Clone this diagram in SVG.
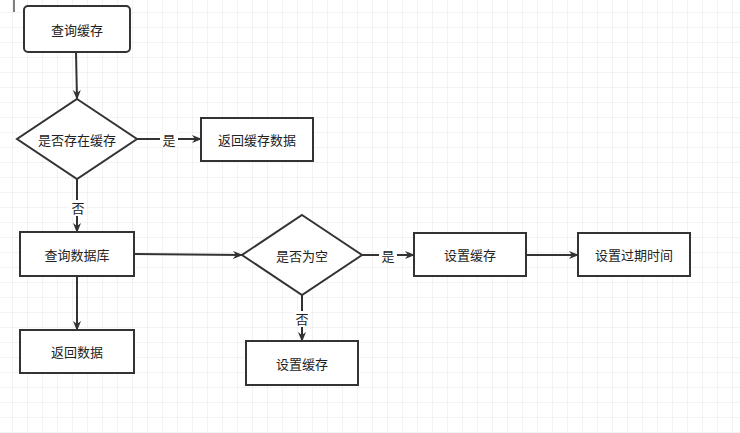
<svg xmlns="http://www.w3.org/2000/svg" width="740" height="433" viewBox="0 0 740 433">
<defs>
<pattern id="g" width="15" height="15" patternUnits="userSpaceOnUse" x="-2" y="-2"><path d="M15 0V15H0" fill="none" stroke="#e6e6e6" stroke-width="1"/></pattern>
<marker id="a" markerWidth="10" markerHeight="10" refX="9" refY="5" orient="auto" markerUnits="userSpaceOnUse"><path d="M0 1L10 5L0 9L3 5Z" fill="#333"/></marker>
</defs>
<style>
.n{fill:#fff;stroke:#333;stroke-width:2}
.t{font-family:"Liberation Sans","Noto Sans CJK SC",sans-serif;font-size:13px;fill:#222;text-anchor:middle;dominant-baseline:central}
.e{stroke:#333;stroke-width:2;fill:none;marker-end:url(#a)}
.l{fill:#fff}
</style>
<rect width="740" height="433" fill="#fff"/>
<rect width="740" height="433" fill="url(#g)"/>
<line x1="14" y1="0" x2="14" y2="12" stroke="#000" stroke-width="1"/>
<g id="connectors">
<path class="e" d="M76 52L77 99"/>
<path class="e" d="M137 139H201"/>
<path class="e" d="M77 179V232"/>
<path class="e" d="M134 254L242 255"/>
<path class="e" d="M362 255H414"/>
<path class="e" d="M302 295V341"/>
<path class="e" d="M526 255H578"/>
<path class="e" d="M77 276V330"/>
<rect class="l" x="160" y="131" width="18" height="16"/><text class="t" x="169" y="140">是</text>
<rect class="l" x="69" y="200" width="18" height="16"/><text class="t" x="78" y="208">否</text>
<rect class="l" x="379" y="247" width="18" height="16"/><text class="t" x="388" y="256">是</text>
<rect class="l" x="293" y="311" width="18" height="16"/><text class="t" x="302" y="319">否</text>
</g>
<g id="n1"><rect class="n" x="24" y="6" width="106" height="46" rx="4"/><text class="t" x="77" y="30">查询缓存</text></g>
<g id="n2"><path class="n" d="M77 99L137 139L77 179L17 139Z"/><text class="t" x="77" y="140">是否存在缓存</text></g>
<g id="n3"><rect class="n" x="201" y="118" width="112" height="43"/><text class="t" x="257" y="140">返回缓存数据</text></g>
<g id="n4"><rect class="n" x="20" y="232" width="114" height="44"/><text class="t" x="77" y="255">查询数据库</text></g>
<g id="n5"><rect class="n" x="20" y="330" width="114" height="43"/><text class="t" x="77" y="352">返回数据</text></g>
<g id="n6"><path class="n" d="M302 215L362 255L302 295L242 255Z"/><text class="t" x="302" y="256">是否为空</text></g>
<g id="n7"><rect class="n" x="414" y="233" width="112" height="43"/><text class="t" x="470" y="255">设置缓存</text></g>
<g id="n8"><rect class="n" x="578" y="233" width="112" height="43"/><text class="t" x="634" y="255">设置过期时间</text></g>
<g id="n9"><rect class="n" x="246" y="341" width="112" height="44"/><text class="t" x="302" y="364">设置缓存</text></g>
</svg>
